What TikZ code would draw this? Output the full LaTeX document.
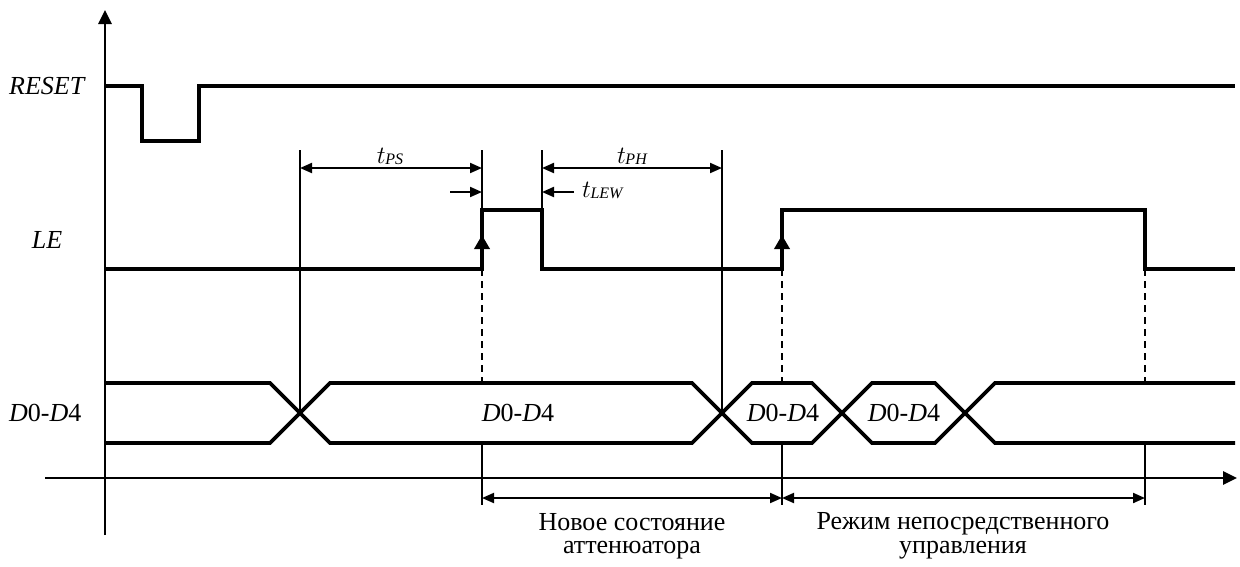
\documentclass[tikz,border=0pt]{standalone}
\usepackage{fontspec}
\setmainfont{Liberation Serif}
\usetikzlibrary{arrows.meta}
\tikzset{
  sig/.style={line width=3.6pt, line join=miter},
  thin/.style={line width=1.5pt},
  axis/.style={line width=2.6pt, -{Triangle[length=14pt,width=13pt]}},
  dim/.style={line width=2pt, {Triangle[length=12pt,width=10pt]}-{Triangle[length=12pt,width=10pt]}},
  one/.style={line width=2pt, -{Triangle[length=12pt,width=10pt]}},
  dsh/.style={line width=1.5pt, dash pattern=on 7pt off 5pt},
  lbl/.style={font=\fontsize{26pt}{28pt}\selectfont\itshape, inner sep=0pt},
  bus/.style={font=\fontsize{26pt}{28pt}\selectfont, inner sep=0pt},
  tlab/.style={font=\fontsize{27pt}{29pt}\selectfont\itshape, inner sep=0pt},
  txt/.style={font=\fontsize{26pt}{23.5pt}\selectfont, inner sep=0pt, align=center},
  edgearrow/.style={line width=3.6pt, -{Triangle[length=14pt,width=15pt]}}
}
\newcommand{\tsub}[1]{$t$\kern-0.5pt\raisebox{-1pt}{\fontsize{16pt}{17pt}\selectfont\itshape #1}}
\begin{document}
\begin{tikzpicture}[x=1pt,y=-1pt]
\useasboundingbox (0,0) rectangle (1240,566);
% axes
\coordinate (vb) at (105,535);
\coordinate (vt) at (105,10);
\coordinate (hl) at (45,478);
\coordinate (hr) at (1237,478);
\draw[axis] (vb) -- (vt);
\draw[axis] (hl) -- (hr);
% labels
\node[lbl, anchor=west] (lreset) at (9,86) {RESET};
\node[lbl] (lle) at (47,240) {LE};
\node[bus, anchor=west] (ld) at (9,413) {\textit{D}0-\textit{D}4};
% RESET
\draw[sig] (105,86) -- (142,86) -- (142,141) -- (199,141) -- (199,86) -- (1235,86);
% LE
\draw[sig] (105,269) -- (482,269) -- (482,210) -- (542,210) -- (542,269) -- (782,269) -- (782,210) -- (1145,210) -- (1145,269) -- (1235,269);
\coordinate (e1) at (482,262); \coordinate (e1t) at (482,235);
\coordinate (e2) at (782,262); \coordinate (e2t) at (782,235);
\draw[edgearrow] (e1) -- (e1t);
\draw[edgearrow] (e2) -- (e2t);
% bus
\draw[sig] (105,383) -- (270,383) -- (330,443) -- (692,443) -- (752,383) -- (812,383) -- (872,443) -- (935,443) -- (995,383) -- (1235,383);
\draw[sig] (105,443) -- (270,443) -- (330,383) -- (692,383) -- (752,443) -- (812,443) -- (872,383) -- (935,383) -- (995,443) -- (1235,443);
\node[bus] (b1) at (518,413) {\textit{D}0-\textit{D}4};
\node[bus] (b2) at (783,413) {\textit{D}0-\textit{D}4};
\node[bus] (b3) at (904,413) {\textit{D}0-\textit{D}4};
% vertical references
\draw[thin] (300,150) -- (300,413);
\draw[thin] (482,150) -- (482,210);
\draw[thin] (542,150) -- (542,210);
\draw[thin] (722,150) -- (722,413);
\draw[dsh] (482,269) -- (482,383);
\draw[dsh] (782,269) -- (782,383);
\draw[dsh] (1145,269) -- (1145,383);
\draw[thin] (482,443) -- (482,505);
\draw[thin] (782,443) -- (782,505);
\draw[thin] (1145,443) -- (1145,505);
% dimensions
\coordinate (ps1) at (300,168); \coordinate (ps2) at (482,168);
\coordinate (ph1) at (542,168); \coordinate (ph2) at (722,168);
\draw[dim] (ps1) -- (ps2);
\draw[dim] (ph1) -- (ph2);
\node[tlab] (tps) at (390,156) {\tsub{PS}};
\node[tlab] (tph) at (632,156) {\tsub{PH}};
\coordinate (lw1) at (450,192); \coordinate (lw2) at (482,192);
\coordinate (lw3) at (574,192); \coordinate (lw4) at (542,192);
\draw[one] (lw1) -- (lw2);
\draw[one] (lw3) -- (lw4);
\node[tlab, anchor=west] (tlew) at (582,190) {\tsub{LEW}};
% bottom intervals
\coordinate (a1) at (482,498); \coordinate (a2) at (782,498); \coordinate (a3) at (1145,498);
\draw[dim] (a1) -- (a2);
\draw[dim] (a2) -- (a3);
\node[txt] (n1) at (632,536) {Новое состояние\\аттенюатора};
\node[txt] (n2) at (963,536) {Режим непосредственного\\управления};
\end{tikzpicture}
\end{document}
